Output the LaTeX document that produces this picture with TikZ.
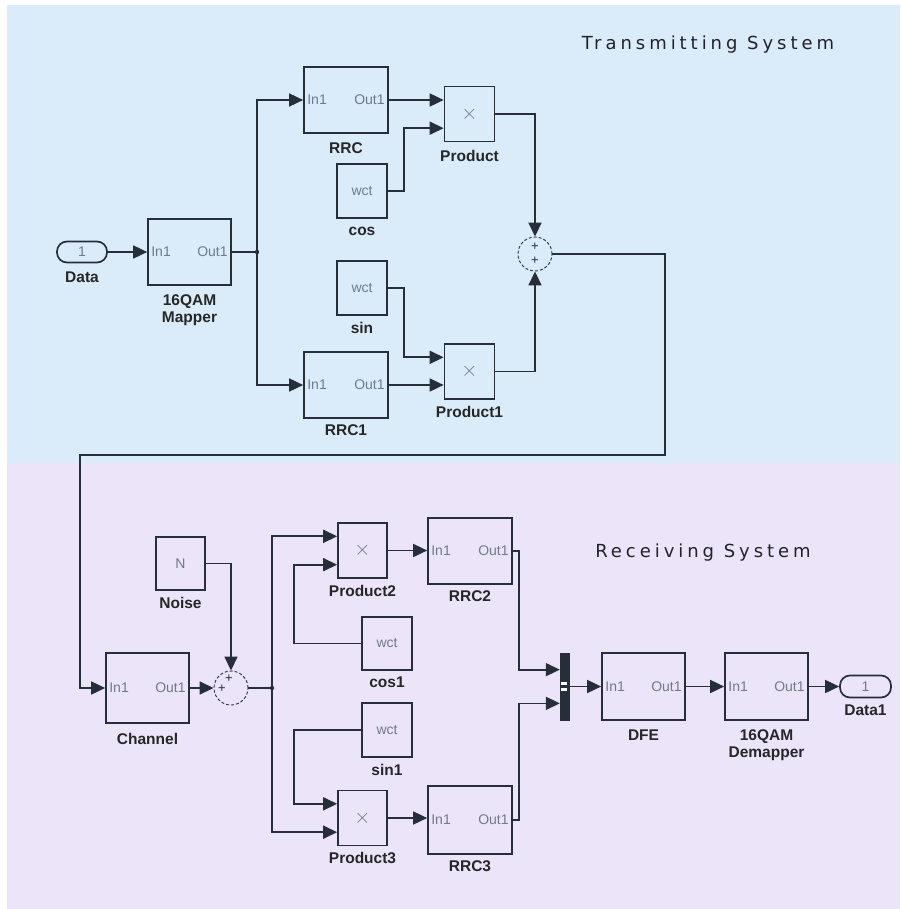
\documentclass[tikz,border=0pt]{standalone}
\usepackage{fontspec}
\setmainfont{Liberation Sans}
\newfontfamily\titlefont[LetterSpace=22]{DejaVu Sans}
\usetikzlibrary{positioning,arrows.meta,calc}
\definecolor{txblue}{RGB}{218,236,249}
\definecolor{rxlilac}{RGB}{236,228,249}
\definecolor{wirec}{RGB}{38,46,58}
\definecolor{portc}{RGB}{112,122,140}
\definecolor{titlec}{RGB}{34,34,40}

\begin{document}
\begin{tikzpicture}[x=1pt, y=-1pt, >={Triangle[length=14pt,width=13pt]}]
  \tikzset{
    blk/.style={draw=wirec, line width=1.7pt, minimum width=84pt, minimum height=66pt, inner sep=0pt},
    src/.style={blk, minimum width=50pt, minimum height=54pt, text=portc, font=\fontsize{14}{16}\selectfont},
    mult/.style={blk, minimum width=50pt, minimum height=55pt, text=portc, font=\fontsize{22}{22}\selectfont},
    iop/.style={draw=wirec, line width=1.7pt, rounded corners=10pt, minimum width=50pt, minimum height=21pt, inner sep=0pt, text=portc, font=\fontsize{14}{16}\selectfont},
    adder/.style={circle, draw=wirec, line width=0.9pt, densely dashed, minimum size=34pt, inner sep=0pt},
    muxbar/.style={fill=wirec, draw=wirec, minimum width=9pt, minimum height=67pt, inner sep=0pt},
    port/.style={font=\fontsize{14}{16}\selectfont, text=portc, inner sep=4pt},
    sgn/.style={font=\fontsize{13}{13}\selectfont, text=wirec, inner sep=0pt},
    lbl/.style={font=\bfseries\fontsize{15.5}{17}\selectfont, text=black!85, inner sep=1pt, align=center},
    ttl/.style={font=\titlefont\fontsize{18}{20}\selectfont, text=titlec},
    wire/.style={draw=wirec, line width=1.7pt}
  }

  % backgrounds
  \useasboundingbox (0,0) rectangle (900,909);
  \fill[txblue] (7,5) rectangle (900,463);
  \fill[rxlilac] (7,463) rectangle (900,909);

  \node[ttl] (txT) at (708,45) {Transmitting System};
  \node[ttl] (rxT) at (703,553) {Receiving System};

  % transmitter blocks
  \node[iop] (data) at (82,252) {1};
  \node[lbl, below=7pt of data] (dataL) {Data};
  \node[blk, minimum width=83pt] (mapper) at (189.5,252) {};
  \node[lbl, below=8pt of mapper] (mapperL) {16QAM\\Mapper};
  \node[blk] (rrc) at (346,100) {};
  \node[lbl, below=8pt of rrc] (rrcL) {RRC};
  \node[blk] (rrc1) at (346,385) {};
  \node[lbl, below=5pt of rrc1] (rrc1L) {RRC1};
  \node[mult] (prod) at (469.5,114) {$\times$};
  \node[lbl, below=7pt of prod] (prodL) {Product};
  \node[mult] (prod1) at (469.5,371.5) {$\times$};
  \node[lbl, below=5pt of prod1] (prod1L) {Product1};
  \node[src] (cos) at (362,191) {wct};
  \node[lbl, below=7pt of cos] (cosL) {cos};
  \node[src] (sin) at (362,288) {wct};
  \node[lbl, below=5pt of sin] (sinL) {sin};
  \node[adder] (sum) at (535,254) {};
  \node[sgn] (sumA) at ($(sum.center)+(0,-7)$) {+};
  \node[sgn] (sumB) at ($(sum.center)+(0,7)$) {+};

  % receiver blocks
  \node[blk, minimum width=83pt, minimum height=70pt] (chan) at (147.5,688) {};
  \node[lbl, below=8pt of chan] (chanL) {Channel};
  \node[src, minimum width=49pt, minimum height=53pt] (noise) at (180.5,563.5) {N};
  \node[lbl, below=5pt of noise] (noiseL) {Noise};
  \node[adder] (sum2) at (231,688) {};
  \node[sgn] (sum2A) at ($(sum2.center)+(-2,-9)$) {+};
  \node[sgn] (sum2B) at ($(sum2.center)+(-9,1)$) {+};
  \node[mult, minimum width=49pt] (prod2) at (362.5,550.5) {$\times$};
  \node[lbl, below=5pt of prod2] (prod2L) {Product2};
  \node[mult, minimum width=49pt] (prod3) at (362.5,818) {$\times$};
  \node[lbl, below=5pt of prod3] (prod3L) {Product3};
  \node[blk] (rrc2) at (470,551) {};
  \node[lbl, below=5pt of rrc2] (rrc2L) {RRC2};
  \node[blk, minimum height=68pt] (rrc3) at (470,820) {};
  \node[lbl, below=5pt of rrc3] (rrc3L) {RRC3};
  \node[src, minimum height=53pt] (cos1) at (387,643.5) {wct};
  \node[lbl, below=5pt of cos1] (cos1L) {cos1};
  \node[src] (sin1) at (387,730) {wct};
  \node[lbl, below=5pt of sin1] (sin1L) {sin1};
  \node[muxbar] (mux) at (564.5,686.5) {};
  \fill[white] (561,682) rectangle (567,685);
  \fill[white] (561,688) rectangle (567,691);
  \node[blk, minimum width=83pt, minimum height=67pt] (dfe) at (643.5,686.5) {};
  \node[lbl, below=8pt of dfe] (dfeL) {DFE};
  \node[blk, minimum width=83pt, minimum height=67pt] (demap) at (766.5,686.5) {};
  \node[lbl, below=8pt of demap] (demapL) {16QAM\\Demapper};
  \node[iop, minimum width=51pt, minimum height=22pt] (data1) at (865.5,686.5) {1};
  \node[lbl, below=5pt of data1] (data1L) {Data1};

  % port names
  \foreach \b in {mapper,rrc,rrc1,chan,rrc2,rrc3,dfe,demap} {
    \node[port, anchor=west] (\b In) at (\b.west) {In1};
    \node[port, anchor=east] (\b Out) at (\b.east) {Out1};
  }

  % input ports of products and mux
  \coordinate (prodA) at ($(prod.north west)!0.25!(prod.south west)$);
  \coordinate (prodB) at ($(prod.north west)!0.75!(prod.south west)$);
  \coordinate (prod1A) at ($(prod1.north west)!0.25!(prod1.south west)$);
  \coordinate (prod1B) at ($(prod1.north west)!0.75!(prod1.south west)$);
  \coordinate (prod2A) at ($(prod2.north west)!0.25!(prod2.south west)$);
  \coordinate (prod2B) at ($(prod2.north west)!0.75!(prod2.south west)$);
  \coordinate (prod3A) at ($(prod3.north west)!0.25!(prod3.south west)$);
  \coordinate (prod3B) at ($(prod3.north west)!0.75!(prod3.south west)$);
  \coordinate (muxA) at ($(mux.north west)!0.25!(mux.south west)$);
  \coordinate (muxB) at ($(mux.north west)!0.75!(mux.south west)$);

  % transmitter wiring
  \coordinate (jt) at (257,252);
  \draw[wire, ->] (data.east) -- (mapper.west);
  \draw[wire] (mapper.east) -- (jt);
  \fill[wirec] (jt) circle (2.2pt);
  \draw[wire, ->] (jt) |- (rrc.west);
  \draw[wire, ->] (jt) |- (rrc1.west);
  \draw[wire, ->] (rrc.east) -- (rrc.east -| prodA);
  \draw[wire, ->] (cos.east) -- ++(16,0) |- (prodB);
  \draw[wire, ->] (sin.east) -- ++(16,0) |- (prod1A);
  \draw[wire, ->] (rrc1.east) -- (rrc1.east -| prod1B);
  \draw[wire, ->] (prod.east) -| (sum.north);
  \draw[wire, ->] (prod1.east) -| (sum.south);

  % link to receiver
  \coordinate (loopR) at (665,455);
  \coordinate (loopL) at (80,455);
  \draw[wire, ->] (sum.east) -| (loopR) -- (loopL) |- (chan.west);

  % receiver wiring
  \coordinate (jr) at (272,688);
  \draw[wire, ->] (chan.east) -- (sum2.west);
  \draw[wire, ->] (noise.east) -| (sum2.north);
  \draw[wire] (sum2.east) -- (jr);
  \fill[wirec] (jr) circle (2.2pt);
  \draw[wire, ->] (jr) |- (prod2A);
  \draw[wire, ->] (jr) |- (prod3B);
  \draw[wire, ->] (cos1.west) -- ++(-67,0) |- (prod2B);
  \draw[wire, ->] (sin1.west) -- ++(-67,0) |- (prod3A);
  \draw[wire, ->] (prod2.east) -- (prod2.east -| rrc2.west);
  \draw[wire, ->] (prod3.east) -- (prod3.east -| rrc3.west);
  \draw[wire, ->] (rrc2.east) -- ++(6,0) |- (muxA);
  \draw[wire, ->] (rrc3.east) -- ++(6,0) |- (muxB);
  \draw[wire, ->] (mux.east) -- (dfe.west);
  \draw[wire, ->] (dfe.east) -- (demap.west);
  \draw[wire, ->] (demap.east) -- (data1.west);
\end{tikzpicture}
\end{document}
